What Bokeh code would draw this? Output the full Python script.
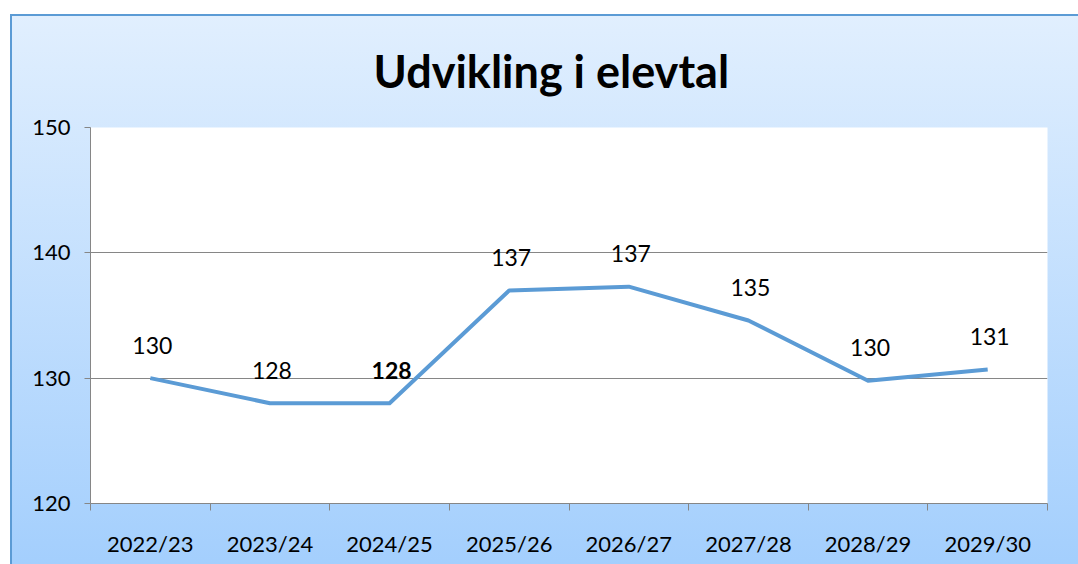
from bokeh.plotting import figure
from bokeh.models import Range1d, FixedTicker, ColumnDataSource, LinearAxis, Grid, Title
from bokeh.embed import file_html
from bokeh.resources import INLINE
from bokeh.core.properties import value

# ---- data ----
categories = ["2022/23", "2023/24", "2024/25", "2025/26", "2026/27", "2027/28", "2028/29", "2029/30"]
values = [130, 128, 128, 137, 137.3, 134.6, 129.8, 130.7]
labels = ["130", "128", "128", "137", "137", "135", "130", "131"]
label_styles = ["normal", "normal", "bold", "normal", "normal", "normal", "normal", "normal"]
y_ticks = [120, 130, 140, 150]
grid_ticks = [130, 140, 150]
title_text = "Udvikling i elevtal"

FONT = "Lato"
GRAY = "#868686"
LINE = "#5b9bd5"

n = len(categories)
xs = [i + 0.5 for i in range(n)]
bounds = list(range(n + 1))

p = figure(width=1078, height=564, output_backend="svg", toolbar_location=None,
           x_range=Range1d(0, n), y_range=Range1d(120, 150),
           x_axis_type=None, y_axis_type=None,
           min_border_left=90, min_border_right=31, min_border_top=127, min_border_bottom=61)
p.border_fill_color = None
p.background_fill_color = "white"
p.outline_line_color = None
p.styles = {
    "background": (
        "linear-gradient(#5b9bd5,#5b9bd5) 10px 14px / 100% 2px no-repeat, "
        "linear-gradient(#5b9bd5,#5b9bd5) 10px 14px / 2px 100% no-repeat, "
        "linear-gradient(to bottom, #e1effe, #a2cefd) 10px 14px / 100% 100% no-repeat, "
        "white"
    )
}

p.title = Title(text=title_text, align="left", offset=283, standoff=60,
                text_font=FONT, text_font_style="bold", text_font_size="45px",
                text_color="black")

xaxis = LinearAxis(
    ticker=FixedTicker(ticks=xs, minor_ticks=bounds),
    major_label_overrides={x: c for x, c in zip(xs, categories)},
    major_tick_out=0, major_tick_in=0, minor_tick_out=7, minor_tick_in=0,
    axis_line_color=GRAY, minor_tick_line_color=GRAY, major_tick_line_color=None,
    major_label_standoff=19,
    major_label_text_font=FONT, major_label_text_font_size="22px",
    major_label_text_color="black",
)
p.add_layout(xaxis, "below")

yaxis = LinearAxis(
    ticker=FixedTicker(ticks=y_ticks, minor_ticks=[]),
    major_tick_out=6, major_tick_in=0, minor_tick_out=0, minor_tick_in=0,
    axis_line_color=GRAY, major_tick_line_color=GRAY,
    major_label_standoff=14,
    major_label_text_font=FONT, major_label_text_font_size="22px",
    major_label_text_color="black",
)
p.add_layout(yaxis, "left")

p.add_layout(Grid(dimension=1, ticker=FixedTicker(ticks=grid_ticks), grid_line_color=GRAY, grid_line_width=1))

p.line(xs, values, line_color=LINE, line_width=4, line_join="round")

src = ColumnDataSource(dict(x=xs, y=values, t=labels, s=label_styles))
p.text(x="x", y="y", text="t", source=src, text_font_style="s",
       text_font=value(FONT), text_font_size="23px", text_color="black",
       text_align="center", text_baseline="middle", y_offset=-33, x_offset=2)

open("out.html", "w").write(file_html(p, INLINE))
